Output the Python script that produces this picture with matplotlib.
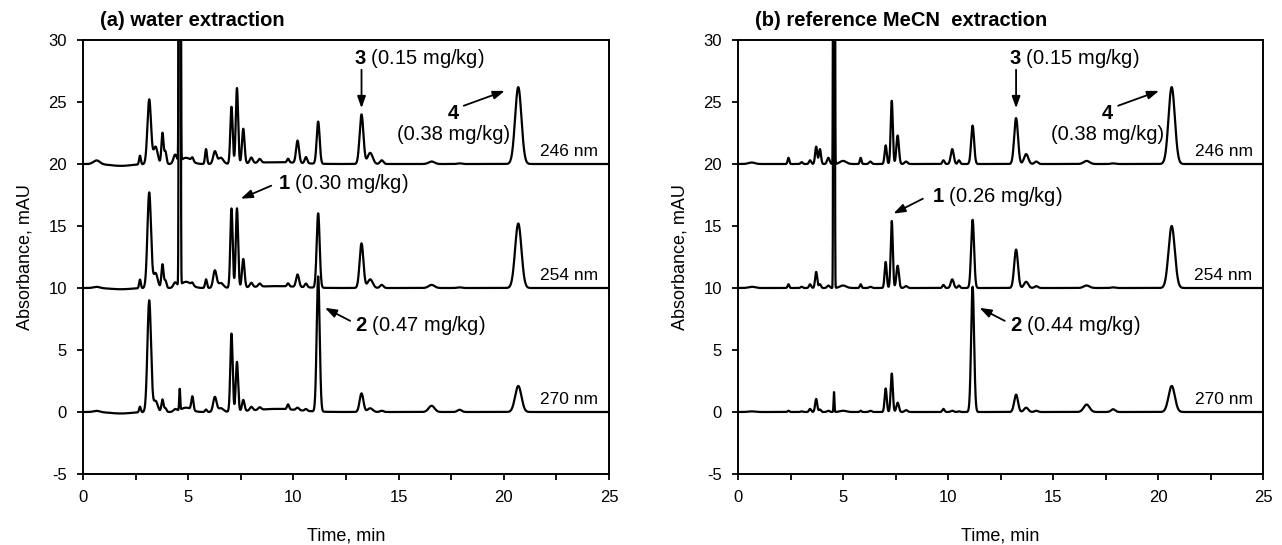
import numpy as np
from matplotlib import pyplot as plt
from matplotlib.ticker import MultipleLocator

plt.rcParams['font.family'] = ['Liberation Sans', 'DejaVu Sans']
plt.rcParams['mathtext.fontset'] = 'custom'
plt.rcParams['mathtext.rm'] = 'Liberation Sans'
plt.rcParams['mathtext.bf'] = 'Liberation Sans:bold'
plt.rcParams['axes.unicode_minus'] = False

###########################################
#      Peak tables
###########################################
# (a) water extraction: retention time (min), peak width (min), height (mAU) per wavelength
a_times = [0.65, 1.8, 2.71, 3.15, 3.45, 3.78, 3.92, 4.38, 4.6, 4.9, 5.2, 5.85, 6.27, 6.55,
           7.06, 7.32, 7.62, 8.0, 8.4, 9.2, 9.75, 10.2, 10.6, 11.18, 13.24, 13.65, 14.2,
           16.57, 17.9, 20.69]
a_widths = [0.15, 0.5, 0.04, 0.085, 0.1, 0.05, 0.05, 0.08, 0.024, 0.25, 0.05, 0.045, 0.08, 0.12,
            0.055, 0.055, 0.06, 0.07, 0.07, 1.0, 0.05, 0.07, 0.06, 0.07, 0.09, 0.12, 0.08,
            0.14, 0.1, 0.15]
a_h246 = [0.3, -0.15, 0.7, 5.2, 1.4, 2.5, 1.0, 0.7, 400, 0.5, 0.3, 1.2, 1.0, 0.5,
          4.6, 6.1, 2.8, 0.45, 0.3, 0.15, 0.3, 1.8, 0.5, 3.4, 4.0, 0.9, 0.3,
          0.2, 0.05, 6.2]
a_h254 = [0.1, -0.1, 0.7, 7.7, 1.2, 1.9, 0.6, 0.4, 300, 0.5, 0.2, 0.7, 1.4, 0.4,
          6.4, 6.4, 2.3, 0.35, 0.25, 0.15, 0.25, 1.0, 0.3, 6.0, 3.6, 0.7, 0.25,
          0.25, 0.05, 5.2]
a_h270 = [0.1, -0.12, 0.45, 9.0, 0.9, 1.0, 0.3, 0.2, 1.7, 0.35, 1.1, 0.2, 1.2, 0.3,
          6.3, 4.0, 0.9, 0.3, 0.2, 0.25, 0.4, 0.2, 0.15, 10.9, 1.5, 0.3, 0.1,
          0.5, 0.18, 2.1]

# (b) reference MeCN extraction
b_times = [0.65, 2.4, 3.03, 3.43, 3.72, 3.9, 4.3, 4.57, 5.0, 5.84, 6.3, 7.03, 7.32, 7.6,
           8.0, 9.78, 10.2, 10.52, 11.17, 13.24, 13.72, 14.2, 16.6, 17.86, 20.65]
b_widths = [0.15, 0.04, 0.05, 0.05, 0.05, 0.05, 0.06, 0.02, 0.15, 0.04, 0.06, 0.05, 0.05, 0.06,
            0.07, 0.05, 0.07, 0.05, 0.07, 0.09, 0.1, 0.08, 0.14, 0.1, 0.15]
b_h246 = [0.12, 0.5, 0.15, 0.3, 1.4, 1.2, 0.5, 400, 0.25, 0.5, 0.2, 1.5, 5.1, 2.3,
          0.2, 0.3, 1.2, 0.3, 3.1, 3.7, 0.8, 0.2, 0.25, 0.05, 6.2]
b_h254 = [0.1, 0.3, 0.1, 0.3, 1.3, 0.3, 0.2, 300, 0.2, 0.3, 0.1, 2.1, 5.4, 1.8,
          0.15, 0.25, 0.7, 0.2, 5.5, 3.1, 0.5, 0.15, 0.2, 0.05, 5.0]
b_h270 = [0.05, 0.1, 0.05, 0.25, 1.05, 0.2, 0.1, 1.6, 0.1, 0.1, 0.1, 1.9, 3.1, 0.75,
          0.15, 0.25, 0.1, 0.05, 10.1, 1.4, 0.35, 0.1, 0.6, 0.22, 2.1]

wavelengths = ['246 nm', '254 nm', '270 nm']
offsets = [20, 10, 0]

titles = ['(a) water extraction', '(b) reference MeCN  extraction']
conc_1 = ['0.30', '0.26']
conc_2 = ['0.47', '0.44']
conc_3 = ['0.15', '0.15']
conc_4 = ['0.38', '0.38']


def trace(t, times, widths, heights):
    y = np.zeros_like(t)
    for c, w, h in zip(times, widths, heights):
        y += h*np.exp(-0.5*((t - c)/w)**2)
    return y


t = np.linspace(0, 25, 20001)
panels = [(a_times, a_widths, [a_h246, a_h254, a_h270]),
          (b_times, b_widths, [b_h246, b_h254, b_h270])]

fig = plt.figure(figsize=(12.82, 5.45), dpi=100)
ax_a = fig.add_axes([0.0647, 0.1303, 0.4103, 0.7963])
ax_b = fig.add_axes([0.5757, 0.1303, 0.4095, 0.7963])

arrow = dict(arrowstyle='-|>,head_length=0.7,head_width=0.25', color='black', lw=1.3,
             shrinkA=0, shrinkB=0)

for i, ax in enumerate([ax_a, ax_b]):
    times, widths, heights = panels[i]
    for h, off, wl in zip(heights, offsets, wavelengths):
        ax.plot(t, off + trace(t, times, widths, h), color='black', lw=1.6)
        ax.text(24.5, off + 0.4, wl, ha='right', va='bottom', fontsize=12.5)

    ax.set_xlim(0, 25)
    ax.set_ylim(-5, 30)
    ax.xaxis.set_major_locator(MultipleLocator(5))
    ax.xaxis.set_minor_locator(MultipleLocator(2.5))
    ax.yaxis.set_major_locator(MultipleLocator(5))
    ax.tick_params(axis='both', which='both', direction='out', length=4.5, width=1.3,
                   labelsize=12, pad=7)
    ax.tick_params(axis='x', which='minor', labelbottom=False)
    for s in ax.spines.values():
        s.set_linewidth(1.4)
    ax.set_xlabel('Time, min', fontsize=13, labelpad=16)
    ax.set_ylabel('Absorbance, mAU', fontsize=13, labelpad=11)
    ax.text(0.032, 1.045, titles[i], transform=ax.transAxes, fontsize=14.5, fontweight='bold',
            ha='left', va='center')

    # compound labels
    ax.annotate('', xy=(13.24, 24.5), xytext=(13.24, 27.6), arrowprops=arrow)
    ax.text(12.9, 28.5, r'$\mathbf{3}$ (' + conc_3[i] + ' mg/kg)', fontsize=14.5, ha='left', va='center')

    ax.annotate('', xy=(20.05, 25.9), xytext=(18.1, 24.7), arrowprops=arrow)
    ax.text(17.6, 24.1, '4', fontsize=14.5, fontweight='bold', ha='center', va='center')
    ax.text(17.6, 22.4, '(' + conc_4[i] + ' mg/kg)', fontsize=14.5, ha='center', va='center')

    if i == 0:
        ax.annotate('', xy=(7.5, 17.2), xytext=(8.95, 18.25), arrowprops=arrow)
        ax.text(9.25, 18.4, r'$\mathbf{1}$ (' + conc_1[i] + ' mg/kg)', fontsize=14.5, ha='left', va='center')
    else:
        ax.annotate('', xy=(7.4, 16.0), xytext=(8.8, 17.2), arrowprops=arrow)
        ax.text(9.25, 17.35, r'$\mathbf{1}$ (' + conc_1[i] + ' mg/kg)', fontsize=14.5, ha='left', va='center')

    ax.annotate('', xy=(11.5, 8.4), xytext=(12.7, 7.35), arrowprops=arrow)
    ax.text(12.95, 6.95, r'$\mathbf{2}$ (' + conc_2[i] + ' mg/kg)', fontsize=14.5, ha='left', va='center')

plt.savefig('out.png', dpi=100)
